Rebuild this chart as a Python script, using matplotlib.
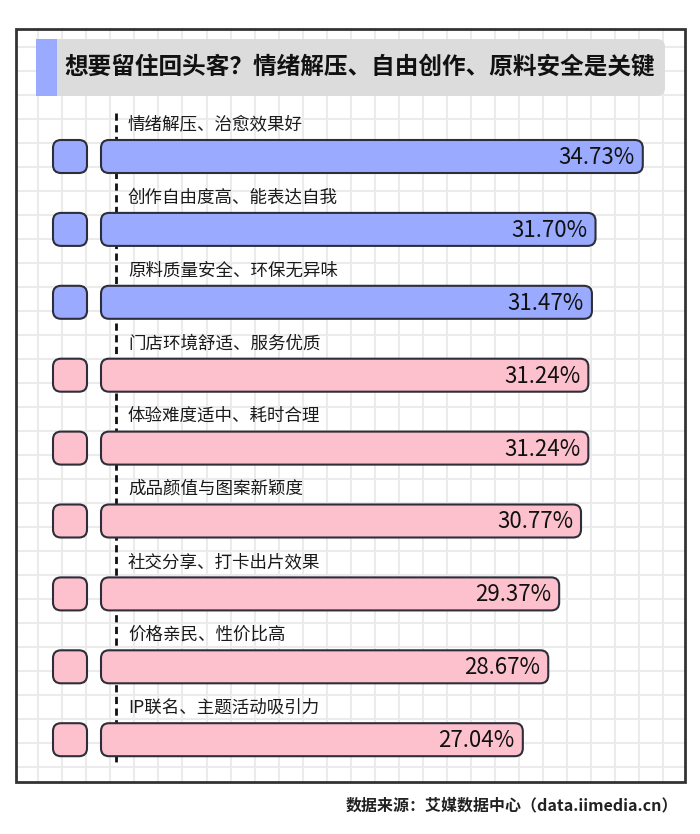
import matplotlib
matplotlib.use("Agg")
import matplotlib.pyplot as plt
from matplotlib.patches import FancyBboxPatch, Rectangle
import numpy as np

plt.rcParams['font.family'] = ['Noto Sans CJK SC', 'DejaVu Sans']

title = "想要留住回头客？情绪解压、自由创作、原料安全是关键"
source = "数据来源：艾媒数据中心（data.iimedia.cn）"
categories = ["情绪解压、治愈效果好", "创作自由度高、能表达自我", "原料质量安全、环保无异味",
              "门店环境舒适、服务优质", "体验难度适中、耗时合理", "成品颜值与图案新颖度",
              "社交分享、打卡出片效果", "价格亲民、性价比高", "IP联名、主题活动吸引力"]
values = [34.73, 31.70, 31.47, 31.24, 31.24, 30.77, 29.37, 28.67, 27.04]
highlight_n = 3

BLUE = "#9aabff"
PINK = "#fcc1cd"
EDGE = "#2e2e3a"

W, H = 700, 834
fig = plt.figure(figsize=(W / 100, H / 100), dpi=100)

# background pixel axes
bg = fig.add_axes([0, 0, 1, 1])
bg.set_xlim(0, W)
bg.set_ylim(H, 0)
bg.axis('off')

FL, FR, FT, FB = 16, 685, 29, 782
# grid
for gx in np.arange(38.3, FR, 24.03):
    bg.plot([gx, gx], [FT, FB], color="#ebebeb", lw=1.5, zorder=1)
for gy in np.arange(46.7, FB, 24.0):
    bg.plot([FL, FR], [gy, gy], color="#ebebeb", lw=1.5, zorder=1)
# frame
bg.add_patch(Rectangle((FL, FT), FR - FL, FB - FT, fill=False, ec="#333333", lw=2, zorder=5))

# title box
bg.add_patch(FancyBboxPatch((36, 39), 629, 57, boxstyle="round,pad=0,rounding_size=8",
                            fc="#dcdcdc", ec="none", zorder=2))
bg.add_patch(Rectangle((36, 39), 21, 57, fc=BLUE, ec="none", zorder=3))
bg.text(64, 67.5, title, fontsize=17, fontweight='bold', color="#111111",
        va='center', ha='left', zorder=4)

# dashed line
bg.plot([116, 116], [113, 766], color="#111111", lw=2, ls=(0, (2.6, 1.6)), zorder=2)

# source
bg.text(678, 805, source, fontsize=11.5, fontweight='bold', color="#222222",
        ha='right', va='center')

# bar axes aligned to frame
px_per_unit = 15.6
x0_px = 101
row0_px = 156.5
row_px = 72.9
ax = fig.add_axes([FL / W, 1 - FB / H, (FR - FL) / W, (FB - FT) / H])
ax.set_xlim(-(x0_px - FL) / px_per_unit, (FR - x0_px) / px_per_unit)
ax.set_ylim((FB - row0_px) / row_px, -(row0_px - FT) / row_px)
ax.axis('off')
ax.patch.set_alpha(0)

ux = 1 / px_per_unit
uy = 1 / row_px
aspect = uy / ux
bar_h = 33 * uy
r = 8 * ux

for i, (cat, v) in enumerate(zip(categories, values)):
    col = BLUE if i < highlight_n else PINK
    # main bar
    ax.add_patch(FancyBboxPatch((0, i - bar_h / 2), v, bar_h,
                                boxstyle=f"round,pad=0,rounding_size={r}",
                                mutation_aspect=aspect, fc=col, ec=EDGE, lw=1.5, zorder=3))
    # small square
    ax.add_patch(FancyBboxPatch((-48 * ux, i - bar_h / 2), 34 * ux, bar_h,
                                boxstyle=f"round,pad=0,rounding_size={r}",
                                mutation_aspect=aspect, fc=col, ec=EDGE, lw=1.5, zorder=3))
    ax.text(v - 8 * ux, i + 1 * uy, f"{v:.2f}%", fontsize=16, color="#111111",
            ha='right', va='center', zorder=4)
    ax.text(27 * ux, i - 32 * uy, cat, fontsize=12.6, color="#1a1a1a",
            ha='left', va='center', zorder=4)

fig.savefig("out.png", dpi=100)
